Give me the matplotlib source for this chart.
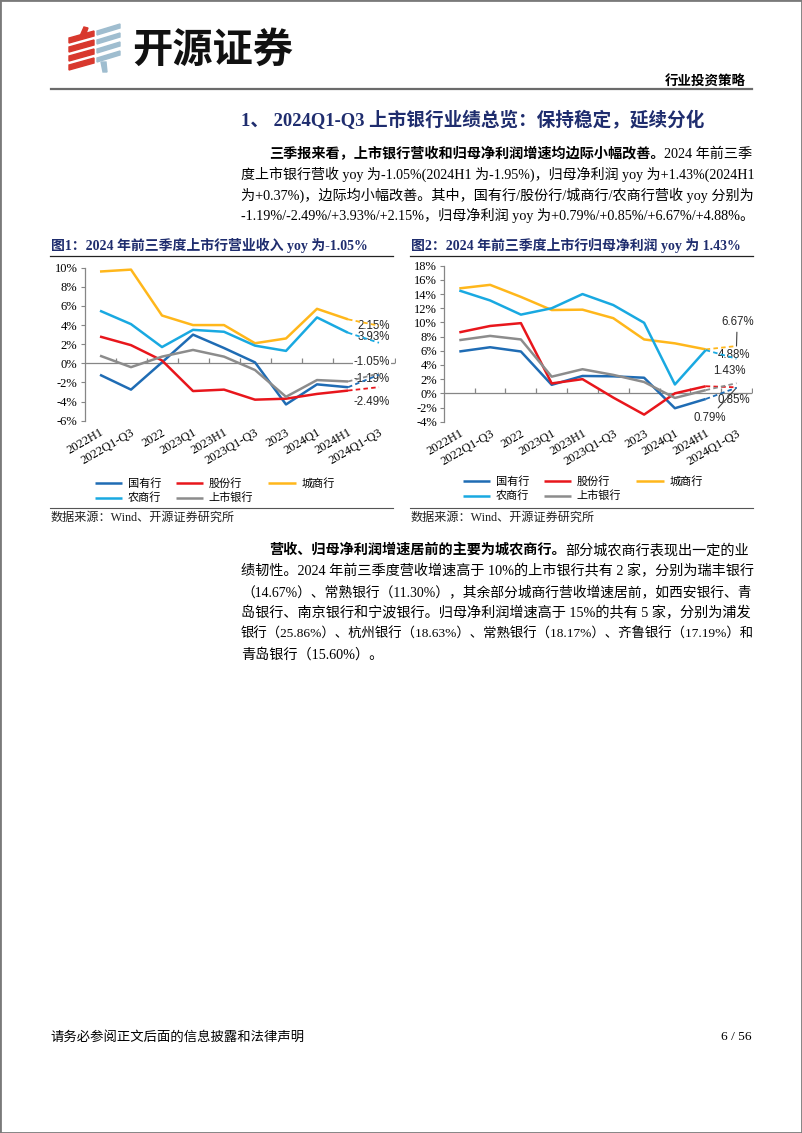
import numpy as np
import matplotlib.pyplot as plt
from matplotlib.patches import Polygon, Rectangle
from matplotlib.lines import Line2D

plt.rcParams['font.family'] = ['Liberation Serif', 'Noto Sans CJK SC', 'DejaVu Sans']
plt.rcParams['axes.unicode_minus'] = False

# ---- data ----
periods = ["2022H1", "2022Q1-Q3", "2022", "2023Q1", "2023H1", "2023Q1-Q3",
           "2023", "2024Q1", "2024H1", "2024Q1-Q3"]
bank_types = ["国有行", "股份行", "城商行", "农商行", "上市银行"]

# fig 1: revenue yoy (%)
rev_state = [-1.2, -2.75, 0.1, 3.0, 1.6, 0.1, -4.3, -2.2, -2.5, -1.19]
rev_joint = [2.8, 1.9, 0.3, -2.9, -2.75, -3.8, -3.7, -3.2, -2.85, -2.49]
rev_city = [9.6, 9.8, 5.0, 4.0, 4.0, 2.1, 2.6, 5.7, 4.6, 3.93]
rev_rural = [5.5, 4.1, 1.7, 3.5, 3.3, 1.85, 1.3, 4.8, 3.2, 2.15]
rev_all = [0.8, -0.4, 0.7, 1.4, 0.7, -0.7, -3.5, -1.75, -1.9, -1.05]

# fig 2: net profit attributable yoy (%)
np_state = [5.9, 6.5, 5.9, 1.2, 2.45, 2.4, 2.2, -2.1, -0.8, 0.79]
np_joint = [8.6, 9.5, 9.9, 1.4, 2.0, -0.6, -3.0, 0.0, 1.0, 0.85]
np_city = [14.8, 15.3, 13.6, 11.75, 11.8, 10.6, 7.6, 7.05, 6.2, 6.67]
np_rural = [14.5, 13.1, 11.1, 12.0, 14.0, 12.45, 9.95, 1.25, 6.1, 4.88]
np_all = [7.5, 8.1, 7.6, 2.35, 3.4, 2.6, 1.6, -0.65, 0.45, 1.43]

colors = ['#1f6cb4', '#e8161c', '#ffb71b', '#19a9e1', '#8c8c8c']
navy = '#1f2d6e'

W, H = 802, 1133
fig = plt.figure(figsize=(W / 100, H / 100), dpi=100)


def fx(x):
    return x / W


def fy(y):
    return 1 - y / H


renderer = fig.canvas.get_renderer()


def put_runs(x, y, runs, size, color='black', right=None):
    # runs: list of (text, bold); y is the baseline in px from top
    texts = []
    x0 = x
    for s, bold in runs:
        t = fig.text(fx(x), fy(y), s, fontsize=size, color=color,
                     fontweight='bold' if bold else 'normal',
                     ha='left', va='baseline')
        texts.append(t)
        x += t.get_window_extent(renderer=renderer).width
    if right is not None and x > right:
        # squeeze an overfull line back inside the text block
        f = (right - x0) / (x - x0)
        x = x0
        for t in texts:
            t.set_fontsize(size * f)
            t.set_x(fx(x))
            x += t.get_window_extent(renderer=renderer).width


def hline(x0, x1, y, color, lw):
    fig.add_artist(Line2D([fx(x0), fx(x1)], [fy(y), fy(y)], color=color, lw=lw,
                          transform=fig.transFigure))


# ---- page frame and header ----
fig.add_artist(Rectangle((0, 0), 1, 1, transform=fig.transFigure, fill=False,
                         edgecolor='#7a7a7a', lw=2))

for yb in [43, 52, 61, 70]:
    fig.add_artist(Polygon([(fx(69), fy(yb)), (fx(94), fy(yb - 7)),
                            (fx(94), fy(yb - 12)), (fx(69), fy(yb - 5))],
                           closed=True, color='#d8382d', transform=fig.transFigure))
fig.add_artist(Polygon([(fx(80), fy(36)), (fx(84), fy(27)), (fx(88), fy(28)),
                        (fx(85), fy(36))], closed=True, color='#d8382d',
                       transform=fig.transFigure))
for yb in [35, 44, 53, 62]:
    fig.add_artist(Polygon([(fx(97), fy(yb)), (fx(120), fy(yb - 7)),
                            (fx(120), fy(yb - 11)), (fx(97), fy(yb - 4))],
                           closed=True, color='#9fbdcf', transform=fig.transFigure))
fig.add_artist(Polygon([(fx(101), fy(62)), (fx(106), fy(62)), (fx(107), fy(72)),
                        (fx(103), fy(72))], closed=True, color='#9fbdcf',
                       transform=fig.transFigure))

fig.text(fx(132), fy(50), "开源证券", fontsize=29, fontweight='heavy',
         family=['Noto Sans CJK SC'], ha='left', va='center', color='#111111')
fig.text(fx(746), fy(82), "行业投资策略", fontsize=9.7, fontweight='bold',
         family=['Noto Sans CJK SC'], ha='right', va='center')
hline(51, 752, 88.5, '#6b6b6b', 1.6)

# ---- section heading and paragraphs ----
put_runs(241, 126, [("1、 2024Q1-Q3 上市银行业绩总览：保持稳定，延续分化", True)], 13.4, navy)

body = 10.2
para1 = [
    (269, 158, [("三季报来看，上市银行营收和归母净利润增速均边际小幅改善。", True), ("2024 年前三季", False)]),
    (241, 179, [("度上市银行营收 yoy 为-1.05%(2024H1 为-1.95%)，归母净利润 yoy 为+1.43%(2024H1", False)]),
    (241, 200, [("为+0.37%)，边际均小幅改善。其中，国有行/股份行/城商行/农商行营收 yoy 分别为", False)]),
    (241, 220, [("-1.19%/-2.49%/+3.93%/+2.15%，归母净利润 yoy 为+0.79%/+0.85%/+6.67%/+4.88%。", False)]),
]
para2 = [
    (269, 554, [("营收、归母净利润增速居前的主要为城农商行。", True), ("部分城农商行表现出一定的业", False)]),
    (241, 575, [("绩韧性。2024 年前三季度营收增速高于 10%的上市银行共有 2 家，分别为瑞丰银行", False)]),
    (241, 596, [("（14.67%）、常熟银行（11.30%），其余部分城商行营收增速居前，如西安银行、青", False)]),
    (241, 617, [("岛银行、南京银行和宁波银行。归母净利润增速高于 15%的共有 5 家，分别为浦发", False)]),
    (241, 638, [("银行（25.86%）、杭州银行（18.63%）、常熟银行（18.17%）、齐鲁银行（17.19%）和", False)]),
    (241, 659, [("青岛银行（15.60%）。", False)]),
]
for x, y, runs in para1 + para2:
    put_runs(x, y, runs, body, right=752)

# ---- footer ----
fig.text(fx(50), fy(1037), "请务必参阅正文后面的信息披露和法律声明", fontsize=9.6,
         ha='left', va='center')
fig.text(fx(752), fy(1037), "6 / 56", fontsize=9.6, ha='right', va='center')


# ---- charts ----
def draw_chart(rect, series, ylim, label_cfg, title, title_x, rule, leg_xy):
    ax = fig.add_axes(rect)
    x = np.arange(len(periods))
    handles = []
    for vals, c, name in zip(series, colors, bank_types):
        v = np.array(vals)
        h, = ax.plot(x[:-1], v[:-1], color=c, lw=1.8, zorder=3, label=name,
                     solid_capstyle='butt')
        ax.plot(x[-2:], v[-2:], color=c, lw=1.3, ls=(0, (2.5, 1.8)), zorder=3)
        handles.append(h)
    ax.set_xlim(-0.5, len(periods) - 0.5)
    ax.set_ylim(*ylim)
    ticks = np.arange(ylim[0], ylim[1] + 1, 2)
    ax.set_yticks(ticks)
    ax.set_yticklabels([f"{t:d}%" for t in ticks], fontsize=9)
    ax.set_xticks(x)
    ax.set_xticklabels(periods, rotation=30, ha='right', rotation_mode='anchor',
                       fontsize=9)
    ax.tick_params(axis='x', length=0, pad=4)
    ax.tick_params(axis='y', length=3, direction='out', color='#868686', pad=2)
    for s in ['top', 'right', 'bottom']:
        ax.spines[s].set_visible(False)
    ax.spines['left'].set_color('#868686')
    ax.spines['left'].set_linewidth(0.9)
    ax.axhline(0, color='#868686', lw=0.9, zorder=1)
    ax.plot(x + 0.5, np.zeros(len(x)), ls='none', marker=2, ms=3.5,
            color='#868686', mew=0.9, zorder=1)
    ax.patch.set_alpha(0)

    for idx, (dx, dy, lead, box) in label_cfg.items():
        val = series[idx][-1]
        kw = dict(textcoords='offset pixels', ha='right', va='center',
                  fontsize=8.3, family=['Liberation Sans'], color='#262626',
                  zorder=2.5)
        if box:
            kw['bbox'] = dict(boxstyle='square,pad=0.05', fc='white', ec='none')
        if lead:
            kw['arrowprops'] = dict(arrowstyle='-', color='#404040', lw=0.8,
                                    shrinkA=1, shrinkB=0)
        ax.annotate(f"{val:.2f}%", xy=(x[-1], val), xytext=(dx, dy), **kw)

    order = [0, 3, 1, 4, 2]
    fig.legend([handles[i] for i in order], [bank_types[i] for i in order],
               ncol=3, loc='upper left', bbox_to_anchor=(fx(leg_xy[0]), fy(leg_xy[1])),
               frameon=False, handlelength=2.45, handletextpad=0.5,
               columnspacing=1.35, labelspacing=0.35, borderpad=0, borderaxespad=0,
               prop={'family': ['Noto Sans CJK SC'], 'size': 8})

    put_runs(title_x, 250, [(title, True)], 10, navy)
    hline(rule[0], rule[1], 255.5, '#222222', 0.9)
    hline(rule[0], rule[1], 507.5, '#555555', 0.8)
    fig.text(fx(rule[0] + 1), fy(518), "数据来源：Wind、开源证券研究所", fontsize=8.7,
             family=['Liberation Serif', 'Noto Sans CJK SC'], color='#222222',
             ha='left', va='center')
    return ax


# label offsets in pixels (dx to right edge, dy up), leader line, white box
labels1 = {0: (11, -4, False, False), 1: (11, -15, False, False),
           2: (11, -11, False, False), 3: (11, 17, False, False),
           4: (11, 11, False, True)}
labels2 = {0: (-11, -30, True, False), 1: (14, -13, False, False),
           2: (17, 24, True, False), 3: (14, 4, False, False),
           4: (9, 12, False, False)}

draw_chart([fx(84.5), fy(420.7), 310 / W, 153 / H],
           [rev_state, rev_joint, rev_city, rev_rural, rev_all], (-6, 10), labels1,
           "图1：2024 年前三季度上市行营业收入 yoy 为-1.05%", 51, (50, 393), (95, 478))
draw_chart([fx(443.9), fy(421.7), 308 / W, 156 / H],
           [np_state, np_joint, np_city, np_rural, np_all], (-4, 18), labels2,
           "图2：2024 年前三季度上市行归母净利润 yoy 为 1.43%", 411, (410, 753), (463, 476))

fig.savefig("out.png", dpi=100)
